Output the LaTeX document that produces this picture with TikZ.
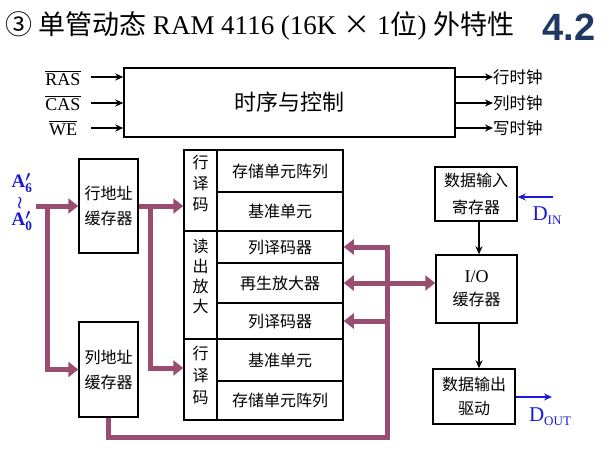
\documentclass[tikz,border=0pt]{standalone}
\usepackage{amsmath}
\usepackage{fontspec}
\setmainfont{Liberation Serif}
\newfontfamily\cjk{Noto Sans CJK SC}
\newfontfamily\hei{Liberation Sans}
\usetikzlibrary{arrows.meta}
\definecolor{busc}{RGB}{153,77,112}
\definecolor{lblue}{RGB}{25,25,215}
\definecolor{navy}{RGB}{31,56,100}
\tikzset{
  box/.style={draw, line width=1.5pt, inner sep=0pt, align=center, font=\cjk\fontsize{16}{25}\selectfont},
  cell/.style={draw, line width=1.5pt, inner sep=0pt, align=center, font=\cjk\fontsize{16}{20}\selectfont},
  vtext/.style={inner sep=0pt, align=center, font=\cjk\fontsize{16}{21}\selectfont},
  busarrow/.style={draw=busc, line width=5pt, line join=miter, -{Triangle[length=10pt,width=15pt]}},
  blk/.style={draw, line width=1.6pt, -{Stealth[length=8pt,width=7pt]}},
  bluearrow/.style={draw=lblue, line width=1.6pt, -{Stealth[length=8pt,width=7pt]}},
  sig/.style={inner sep=0pt, font=\fontsize{18}{18}\selectfont},
  clk/.style={inner sep=0pt, anchor=west, font=\cjk\fontsize{16.5}{16.5}\selectfont},
  addrlbl/.style={inner sep=0pt, text=lblue, font=\bfseries\fontsize{19}{19}\selectfont},
}
\begin{document}
\begin{tikzpicture}[x=1pt,y=-1pt]
\useasboundingbox (0,0) rectangle (612,449);
% title
\node[anchor=west, inner sep=0pt, font=\fontsize{27}{27}\selectfont] (title) at (5,26)
  {{\cjk ③ 单管动态} RAM 4116 (16K {\cjk ×} 1{\cjk 位}) {\cjk 外特性}};
\node[inner sep=0pt, font=\hei\bfseries\fontsize{38}{38}\selectfont, text=navy] (num) at (569,27) {4.2};

% control
\node[box, minimum width=331, minimum height=69, font=\cjk\fontsize{22}{22}\selectfont] (ctrl) at (289.5,102.5) {时序与控制};
\node[sig] (ras) at (63,78) {$\overline{\mbox{RAS}}$};
\node[sig] (cas) at (63,103) {$\overline{\mbox{CAS}}$};
\node[sig] (we)  at (63,128) {$\overline{\mbox{WE}}$};
\draw[blk] (91,77) -- (ctrl.west |- 0,77);
\draw[blk] (91,103) -- (ctrl.west |- 0,103);
\draw[blk] (91,128) -- (ctrl.west |- 0,128);
\node[clk] (c1) at (493,77) {行时钟};
\node[clk] (c2) at (493,103) {列时钟};
\node[clk] (c3) at (493,128) {写时钟};
\draw[blk] (ctrl.east |- c1) -- (c1.west);
\draw[blk] (ctrl.east |- c2) -- (c2.west);
\draw[blk] (ctrl.east |- c3) -- (c3.west);

% address label
\node[addrlbl] (a6) at (22,183) {A$^{\boldsymbol\prime}_{\mathbf 6}$};
\node[addrlbl, font=\bfseries\fontsize{16}{16}\selectfont] (wr) at (20,203) {$\boldsymbol\wr$};
\node[addrlbl] (a0) at (22,221) {A$^{\boldsymbol\prime}_{\mathbf 0}$};

% buffers
\node[box, minimum width=59, minimum height=94] (rowbuf) at (108.5,206) {行地址\\缓存器};
\node[box, minimum width=59, minimum height=95] (colbuf) at (108.5,369.5) {列地址\\缓存器};

% main block cells
\node[cell, minimum width=33, minimum height=81] (L1) at (200.5,190.5) {};
\node[cell, minimum width=33, minimum height=108] (L2) at (200.5,285) {};
\node[cell, minimum width=33, minimum height=81] (L3) at (200.5,379.5) {};
\node[vtext] (t1) at (200.5,183) {行\\译\\码};
\node[vtext, font=\cjk\fontsize{16}{20}\selectfont] (t2) at (200.5,276.5) {读\\出\\放\\大};
\node[vtext, font=\cjk\fontsize{16}{22}\selectfont] (t3) at (200.5,375) {行\\译\\码};
\node[cell, minimum width=126, minimum height=42] (R1) at (280,171) {存储单元阵列};
\node[cell, minimum width=126, minimum height=39] (R2) at (280,211.5) {基准单元};
\node[cell, minimum width=126, minimum height=32] (R3) at (280,247) {列译码器};
\node[cell, minimum width=126, minimum height=40] (R4) at (280,283) {再生放大器};
\node[cell, minimum width=126, minimum height=36] (R5) at (280,321) {列译码器};
\node[cell, minimum width=126, minimum height=42] (R6) at (280,360) {基准单元};
\node[cell, minimum width=126, minimum height=39] (R7) at (280,400.5) {存储单元阵列};

% right boxes
\node[box, minimum width=82, minimum height=54, font=\cjk\fontsize{16}{27}\selectfont] (inreg) at (476,194) {数据输入\\寄存器};
\node[box, minimum width=81, minimum height=68, font=\cjk\fontsize{16}{23}\selectfont] (iobuf) at (476.5,289) {{\rmfamily\fontsize{18}{18}\selectfont I/O}\\缓存器};
\node[box, minimum width=82, minimum height=55, font=\cjk\fontsize{16}{24}\selectfont] (outdrv) at (474,396.5) {数据输出\\驱动};
\draw[blk] (inreg.south -| 479,0) -- (iobuf.north -| 479,0);
\draw[blk] (iobuf.south -| 479,0) -- (outdrv.north -| 479,0);

\coordinate (din) at (553,197);
\coordinate (dout) at (552,397);
\draw[bluearrow] (din) -- (inreg.east |- din);
\draw[bluearrow] (outdrv.east |- dout) -- (dout);
\node[inner sep=0pt, text=lblue, font=\fontsize{21}{21}\selectfont] (dinl) at (547,216) {D\raisebox{-4pt}{\fontsize{13}{13}\selectfont IN}};
\node[inner sep=0pt, text=lblue, font=\fontsize{21}{21}\selectfont] (doutl) at (550,417) {D\raisebox{-4pt}{\fontsize{13}{13}\selectfont OUT}};

% magenta buses
\coordinate (ain) at (36,206);
\draw[busarrow] (ain) -- (rowbuf.west);
\draw[busarrow, line cap=rect] (47,206) -- (47,369.5) -- (colbuf.west);
\draw[busarrow] (rowbuf.east) -- (rowbuf.east -| L1.west);
\draw[busarrow, line cap=rect] (150,206) -- (150,368) -- (L3.west |- 0,368);
\draw[busarrow] (colbuf.south) -- (colbuf.south |- 0,437) -- (387,437) -- (387,247) -- (R3.east);
\draw[busarrow, line cap=rect] (387,283) -- (R4.east);
\draw[busarrow] (387,321) -- (R5.east);
\draw[busarrow] (387,283) -- (iobuf.west |- R4);
\end{tikzpicture}
\end{document}
